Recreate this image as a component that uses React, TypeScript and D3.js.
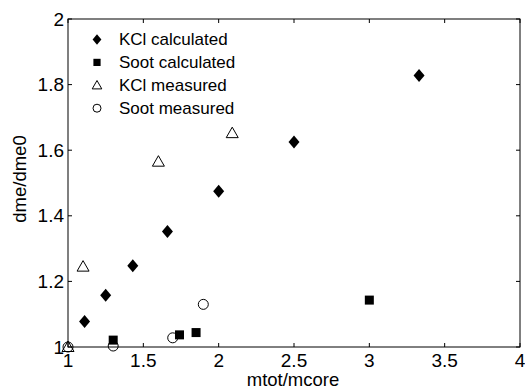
import React from "react";
import * as d3 from "d3";

const kclCalcX = [1.11, 1.25, 1.43, 1.66, 2.0, 2.5, 3.33];
const kclCalcY = [1.078, 1.158, 1.248, 1.352, 1.475, 1.625, 1.828];
const sootCalcX = [1.3, 1.74, 1.85, 3.0];
const sootCalcY = [1.021, 1.037, 1.044, 1.143];
const kclMeasX = [1.0, 1.1, 1.6, 2.09];
const kclMeasY = [1.0, 1.245, 1.565, 1.652];
const sootMeasX = [1.0, 1.3, 1.695, 1.898];
const sootMeasY = [1.0, 1.003, 1.028, 1.13];
const xTicks = [1, 1.5, 2, 2.5, 3, 3.5, 4];
const yTicks = [1, 1.2, 1.4, 1.6, 1.8, 2];
const legendLabels = ["KCl calculated", "Soot calculated", "KCl measured", "Soot measured"];

const W = 525, H = 390;
const L = 68, R = 520, T = 19, B = 347;

export default function App() {
  const x = d3.scaleLinear().domain([1, 4]).range([L, R]);
  const y = d3.scaleLinear().domain([1, 2]).range([B, T]);
  const font = "Arial, 'Liberation Sans', Helvetica, sans-serif";
  const tl = 4;

  const diamond = (cx: number, cy: number, k: number, s = 1) => (
    <path key={k} d={`M${cx},${cy - 6.5 * s}L${cx + 5.5 * s},${cy}L${cx},${cy + 6.5 * s}L${cx - 5.5 * s},${cy}Z`} fill="#000" />
  );
  const square = (cx: number, cy: number, k: number, s = 1) => (
    <rect key={k} x={cx - 4.5 * s} y={cy - 4.5 * s} width={9 * s} height={9 * s} fill="#000" />
  );
  const triangle = (cx: number, cy: number, k: number, s = 1) => (
    <path key={k} d={`M${cx},${cy - 6 * s}L${cx + 6 * s},${cy + 4.5 * s}L${cx - 6 * s},${cy + 4.5 * s}Z`} fill="none" stroke="#000" strokeWidth={1} />
  );
  const circle = (cx: number, cy: number, k: number, s = 1) => (
    <circle key={k} cx={cx} cy={cy} r={5 * s} fill="none" stroke="#000" strokeWidth={1} />
  );
  const markers = [diamond, square, triangle, circle];

  return (
    <svg width={W} height={H} style={{ position: "absolute", left: 0, top: 0, background: "#fff" }} fontFamily={font}>
      <rect x={0} y={0} width={W} height={H} fill="#fff" />
      <rect x={L} y={T} width={R - L} height={B - T} fill="none" stroke="#000" strokeWidth={1} />
      {xTicks.map((t, i) => (
        <g key={"xt" + i}>
          <line x1={x(t)} x2={x(t)} y1={B} y2={B - tl} stroke="#000" />
          <line x1={x(t)} x2={x(t)} y1={T} y2={T + tl} stroke="#000" />
          <text x={x(t)} y={366.5} textAnchor="middle" fontSize={19}>{String(t)}</text>
        </g>
      ))}
      {yTicks.map((t, i) => (
        <g key={"yt" + i}>
          <line x1={L} x2={L + tl} y1={y(t)} y2={y(t)} stroke="#000" />
          <line x1={R} x2={R - tl} y1={y(t)} y2={y(t)} stroke="#000" />
          <text x={64} y={y(t)} dy="0.35em" textAnchor="end" fontSize={19}>{String(t)}</text>
        </g>
      ))}
      <text x={293} y={386} textAnchor="middle" fontSize={18.5}>mtot/mcore</text>
      <text transform={`translate(26,179) rotate(-90)`} textAnchor="middle" fontSize={18.5}>dme/dme0</text>
      {kclCalcX.map((v, i) => diamond(x(v), y(kclCalcY[i]), i))}
      {sootCalcX.map((v, i) => square(x(v), y(sootCalcY[i]), i))}
      {kclMeasX.map((v, i) => triangle(x(v), y(kclMeasY[i]), i))}
      {sootMeasX.map((v, i) => circle(x(v), y(sootMeasY[i]), i))}
      {legendLabels.map((lab, i) => {
        const ly = 39.5 + i * 22.9;
        return (
          <g key={"lg" + i}>
            {markers[i](97, ly, i, 0.8)}
            <text x={119} y={ly} dy="0.35em" fontSize={17}>{lab}</text>
          </g>
        );
      })}
    </svg>
  );
}
